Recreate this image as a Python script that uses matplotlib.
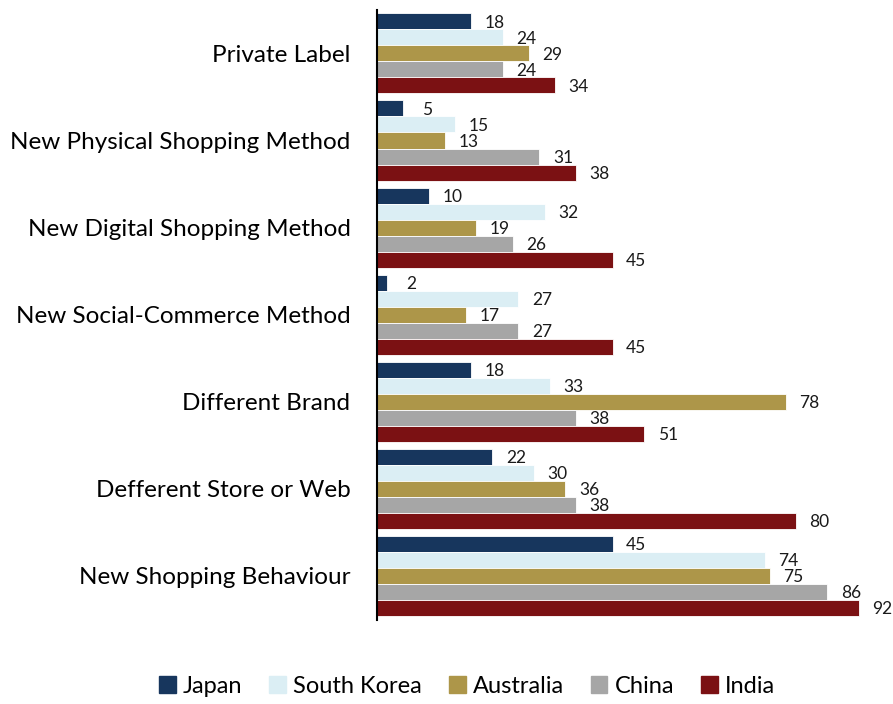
import matplotlib
matplotlib.use("Agg")
import matplotlib.pyplot as plt
import numpy as np

plt.rcParams['font.family'] = ['Lato', 'DejaVu Sans']

categories = ["Private Label", "New Physical Shopping Method", "New Digital Shopping Method",
              "New Social-Commerce Method", "Different Brand", "Defferent Store or Web",
              "New Shopping Behaviour"]
countries = ["Japan", "South Korea", "Australia", "China", "India"]
japan = [18, 5, 10, 2, 18, 22, 45]
south_korea = [24, 15, 32, 27, 33, 30, 74]
australia = [29, 13, 19, 17, 78, 36, 75]
china = [24, 31, 26, 27, 38, 38, 86]
india = [34, 38, 45, 45, 51, 80, 92]
colors = ["#17365d", "#dbeef4", "#ad9649", "#a6a6a6", "#7b1113"]

series = [japan, south_korea, australia, china, india]

fig = plt.figure(figsize=(8.93, 7.04), dpi=100)
ax = fig.add_axes([0.422, 0.12, 0.575, 0.866])

y = np.arange(len(categories))
h = 0.184
for i, (vals, name, col) in enumerate(zip(series, countries, colors)):
    pos = y + (i - 2) * h
    ax.barh(pos, vals, height=h, color=col, edgecolor="white", linewidth=0.6, label=name)
    for p, v in zip(pos, vals):
        ax.annotate(str(v), (v, p), xytext=(17, -1), textcoords="offset points",
                    ha="center", va="center", fontsize=12.5, color="#1a1a1a")

ax.set_ylim(len(categories) - 0.5, -0.5)
ax.set_xlim(0, 98)
ax.set_yticks(y)
ax.set_yticklabels(categories, fontsize=17.5)
ax.tick_params(axis="y", length=0, pad=19)
ax.set_xticks([])
for s in ["top", "right", "bottom"]:
    ax.spines[s].set_visible(False)
ax.spines["left"].set_linewidth(1.5)
ax.spines["left"].set_color("black")

handles = [plt.Rectangle((0, 0), 1, 1, color=c) for c in colors]
fig.legend(handles, countries, loc="center", bbox_to_anchor=(0.523, 0.025), ncol=5,
           frameon=False, fontsize=17, handlelength=0.7, handleheight=0.7,
           handletextpad=0.3, columnspacing=1.15)

fig.savefig("out.png", dpi=100)
